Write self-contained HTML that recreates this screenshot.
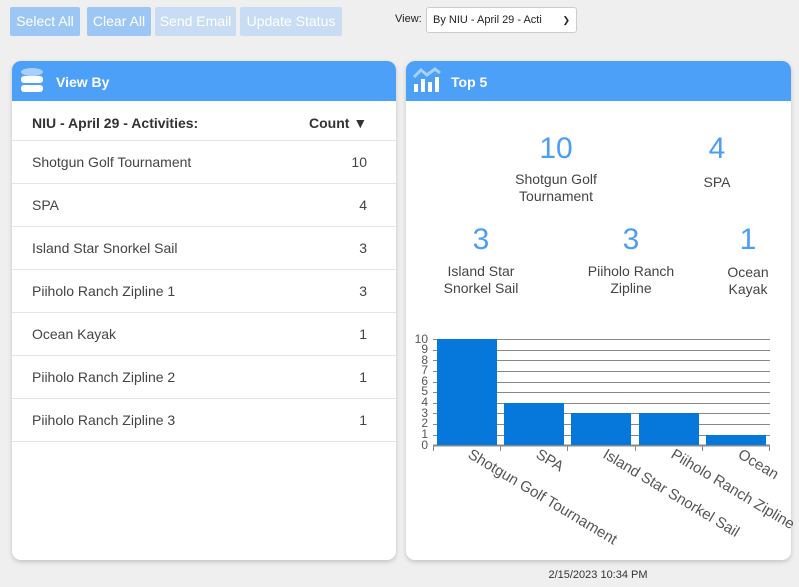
<!DOCTYPE html>
<html><head><meta charset="utf-8"><style>
*{box-sizing:border-box;margin:0;padding:0}
body{width:799px;height:587px;background:#efefef;font-family:"Liberation Sans",sans-serif;position:relative;overflow:hidden;color:#333}
.a{position:absolute;white-space:nowrap}
.btn{position:absolute;top:7px;height:29px;color:#fff;font-size:14px;line-height:29px;text-align:center;border-radius:2px}
.panel{position:absolute;top:61px;height:499px;background:#fff;border-radius:9px;box-shadow:0 2px 5px rgba(0,0,0,.18);overflow:hidden}
.hdr{height:40px;background:#4da0f7;color:#fff;font-weight:bold;font-size:14px;position:relative}
.row{position:absolute;left:0;width:384px;height:43px;border-bottom:1px solid #e4e4e4;font-size:14px;color:#444}
.row span{position:absolute;top:13px}
.big{position:absolute;color:#4d9df5;font-size:30px;text-align:center}
.lbl{position:absolute;font-size:14px;color:#444;text-align:center;line-height:17px}
</style></head><body>
<div class="btn" style="left:10px;width:70px;background:#9cc7f4">Select All</div>
<div class="btn" style="left:87px;width:64px;background:#9cc7f4">Clear All</div>
<div class="btn" style="left:155px;width:81px;background:#c8dcf3">Send Email</div>
<div class="btn" style="left:240px;width:102px;background:#c8dcf3">Update Status</div>
<div class="a" style="left:395px;top:13px;font-size:11px;color:#222">View:</div>
<div class="a" style="left:426px;top:7px;width:151px;height:26px;background:#fff;border:1px solid #ccc;border-radius:3px;font-size:11px;line-height:24px;padding-left:6px;color:#222">By NIU - April 29 - Acti<span style="position:absolute;right:6px;font-size:9px">&#10095;</span></div>

<div class="panel" style="left:12px;width:384px">
 <div class="hdr"><svg class="a" style="left:8px;top:6px" width="26" height="26" viewBox="0 0 26 26"><ellipse cx="12" cy="5" rx="11" ry="4" fill="#a9d0fb"/><rect x="1" y="9" width="22" height="7" rx="3" fill="#fff"/><rect x="1" y="18" width="22" height="7" rx="3" fill="#fff"/></svg><span class="a" style="left:44px;top:13px">View By</span></div>
 <div class="a" style="left:20px;top:54px;font-size:14px;font-weight:bold;color:#333">NIU - April 29 - Activities:</div>
 <div class="a" style="left:297px;top:54px;font-size:14px;font-weight:bold;color:#333">Count &#9660;</div>
 <div class="row" style="top:37px;height:43px"></div>
 <div class="row" style="top:80px"><span style="left:20px">Shotgun Golf Tournament</span><span style="right:29px">10</span></div>
 <div class="row" style="top:123px"><span style="left:20px">SPA</span><span style="right:29px">4</span></div>
 <div class="row" style="top:166px"><span style="left:20px">Island Star Snorkel Sail</span><span style="right:29px">3</span></div>
 <div class="row" style="top:209px"><span style="left:20px">Piiholo Ranch Zipline 1</span><span style="right:29px">3</span></div>
 <div class="row" style="top:252px"><span style="left:20px">Ocean Kayak</span><span style="right:29px">1</span></div>
 <div class="row" style="top:295px"><span style="left:20px">Piiholo Ranch Zipline 2</span><span style="right:29px">1</span></div>
 <div class="row" style="top:338px"><span style="left:20px">Piiholo Ranch Zipline 3</span><span style="right:29px">1</span></div>
</div>

<div class="panel" style="left:406px;width:385px">
 <div class="hdr"><svg class="a" style="left:6px;top:6px" width="30" height="26" viewBox="0 0 30 26"><polyline points="2,10 9,3 15,8 23,2 28,6" fill="none" stroke="#a9d0fb" stroke-width="3"/><rect x="2" y="17" width="4" height="8" fill="#fff"/><rect x="9" y="12" width="4" height="13" fill="#fff"/><rect x="16" y="15" width="4" height="10" fill="#fff"/><rect x="23" y="10" width="4" height="15" fill="#fff"/></svg><span class="a" style="left:45px;top:13px">Top 5</span></div>
 <div class="big" style="left:100px;width:100px;top:71px">10</div>
 <div class="lbl" style="left:90px;width:120px;top:110px">Shotgun Golf<br>Tournament</div>
 <div class="big" style="left:281px;width:60px;top:71px">4</div>
 <div class="lbl" style="left:281px;width:60px;top:113px">SPA</div>
 <div class="big" style="left:45px;width:60px;top:162px">3</div>
 <div class="lbl" style="left:20px;width:110px;top:202px">Island Star<br>Snorkel Sail</div>
 <div class="big" style="left:195px;width:60px;top:162px">3</div>
 <div class="lbl" style="left:165px;width:120px;top:202px">Piiholo Ranch<br>Zipline</div>
 <div class="big" style="left:312px;width:60px;top:162px">1</div>
 <div class="lbl" style="left:312px;width:60px;top:203px">Ocean<br>Kayak</div>
</div>

<svg class="a" style="left:0;top:0" width="799" height="587">
 <g stroke="#888" stroke-width="1">
  <line x1="433" y1="339.5" x2="770" y2="339.5"/><line x1="433" y1="350.5" x2="770" y2="350.5"/><line x1="433" y1="360.5" x2="770" y2="360.5"/><line x1="433" y1="371.5" x2="770" y2="371.5"/><line x1="433" y1="382.5" x2="770" y2="382.5"/><line x1="433" y1="392.5" x2="770" y2="392.5"/><line x1="433" y1="403.5" x2="770" y2="403.5"/><line x1="433" y1="413.5" x2="770" y2="413.5"/><line x1="433" y1="424.5" x2="770" y2="424.5"/><line x1="433" y1="435.5" x2="770" y2="435.5"/>
  <line x1="433" y1="445.5" x2="770" y2="445.5" stroke-width="2"/>
  <line x1="433.5" y1="445" x2="433.5" y2="451"/><line x1="500.5" y1="445" x2="500.5" y2="451"/><line x1="567.5" y1="445" x2="567.5" y2="451"/><line x1="635.5" y1="445" x2="635.5" y2="451"/><line x1="702.5" y1="445" x2="702.5" y2="451"/><line x1="769.5" y1="445" x2="769.5" y2="451"/>
 </g>
 <g fill="#0678dc">
  <rect x="437" y="339" width="60" height="106"/><rect x="504" y="403" width="60" height="42"/><rect x="571" y="413" width="60" height="32"/><rect x="639" y="413" width="60" height="32"/><rect x="706" y="435" width="60" height="10"/>
 </g>
 <g font-size="12" fill="#555" text-anchor="end" font-family="Liberation Sans">
  <text x="428" y="343">10</text><text x="428" y="353">9</text><text x="428" y="364">8</text><text x="428" y="374">7</text><text x="428" y="385">6</text><text x="428" y="395">5</text><text x="428" y="406">4</text><text x="428" y="417">3</text><text x="428" y="427">2</text><text x="428" y="438">1</text><text x="428" y="449">0</text>
 </g>
 <g font-size="15" fill="#555" font-family="Liberation Sans">
  <text transform="translate(467,457) rotate(31)">Shotgun Golf Tournament</text>
  <text transform="translate(535,457) rotate(31)">SPA</text>
  <text transform="translate(602,457) rotate(31)">Island Star Snorkel Sail</text>
  <text transform="translate(670,457) rotate(31)">Piiholo Ranch Zipline</text>
  <text transform="translate(737,457) rotate(31)">Ocean</text>
 </g>
 <text x="598" y="578" font-size="11" fill="#333" text-anchor="middle" font-family="Liberation Sans">2/15/2023 10:34 PM</text>
</svg>
</body></html>
